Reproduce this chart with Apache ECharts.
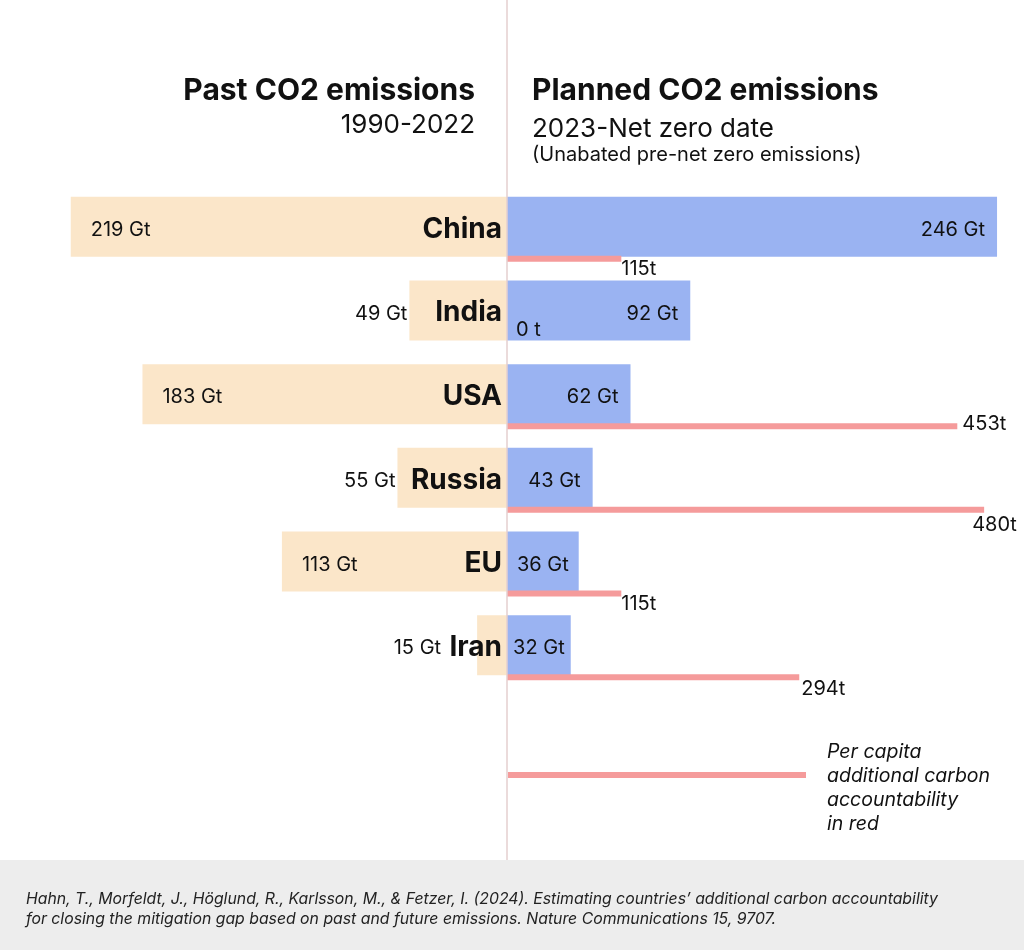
<!DOCTYPE html>
<html>
<head>
<meta charset="utf-8">
<script src="https://cdn.jsdelivr.net/npm/echarts@6/dist/echarts.min.js"></script>
<style>
html,body{margin:0;padding:0;background:#fff;}
#chart{width:1024px;height:950px;}
</style>
</head>
<body>
<div id="chart"></div>
<script>
// ---- data ----
const countries = ['China', 'India', 'USA', 'Russia', 'EU', 'Iran'];
const pastGt = [219, 49, 183, 55, 113, 15];          // 1990-2022
const plannedGt = [246, 92, 62, 43, 36, 32];         // 2023-net zero date
const perCapitaT = [115, 0, 453, 480, 115, 294];     // additional carbon accountability per capita (t)

// ---- styles ----
const FONT = 'Inter, "Noto Sans", sans-serif';
const BEIGE = '#fbe6c9';
const BLUE = '#9ab3f2';
const RED = '#f59b9b';
const INK = '#111111';
const CENTER_LINE = '#e5cfcf';

// label placements for the red per-capita lines (style only)
const redLabelOffset = {
  China: [-5, 10], India: [4, -13], USA: [0, -2],
  Russia: [-17, 15], EU: [-5, 10], Iran: [-3, 12]
};

const chart = echarts.init(document.getElementById('chart'), null, {renderer: 'canvas'});

const pastData = pastGt.map((v, i) => {
  const small = v < 60;
  return {
    value: -v,
    label: {
      position: small ? 'left' : 'insideLeft',
      distance: small ? 2 : 20,
      offset: countries[i] === 'Iran' ? [-34, 3] : [0, 3]
    }
  };
});

const plannedData = plannedGt.map(v => ({
  value: v,
  label: { position: v < 40 ? 'inside' : 'insideRight', distance: 12, offset: [0, 3] }
}));

const redData = perCapitaT.map((v, i) => ({
  value: v,
  label: { position: 'right', distance: 5, offset: redLabelOffset[countries[i]] }
}));

const gridBase = { outerBoundsMode: 'none', containLabel: false };

const option = {
  animation: false,
  backgroundColor: '#ffffff',
  textStyle: { fontFamily: FONT },
  grid: [
    Object.assign({ left: 7, width: 1000, top: 185, height: 502 }, gridBase),
    Object.assign({ left: 7, width: 1000, top: 217, height: 502 }, gridBase),
    Object.assign({ left: 507, width: 1, top: 185, height: 502 }, gridBase)
  ],
  xAxis: [
    { type: 'value', gridIndex: 0, min: -251, max: 251, show: false },
    { type: 'value', gridIndex: 1, min: -503, max: 503, show: false },
    { type: 'value', gridIndex: 2, min: 0, max: 1, show: false }
  ],
  yAxis: [
    { type: 'category', gridIndex: 0, data: countries, inverse: true, show: false },
    { type: 'category', gridIndex: 1, data: countries, inverse: true, show: false },
    {
      type: 'category', gridIndex: 2, data: countries, inverse: true, z: 10,
      position: 'left',
      axisLine: { show: false },
      axisTick: { show: false },
      splitLine: { show: false },
      axisLabel: {
        margin: 5, color: INK, fontFamily: FONT,
        formatter: v => '{c|' + v + '}',
        rich: {
          c: { fontSize: 28, fontWeight: 'bold', fontFamily: FONT, color: INK,
               padding: [5, 0, 0, 0] }
        }
      }
    }
  ],
  series: [
    {
      name: 'Past', type: 'bar', xAxisIndex: 0, yAxisIndex: 0, barWidth: 60, barGap: '-100%',
      itemStyle: { color: BEIGE }, z: 2,
      label: {
        show: true, color: INK, fontSize: 20, fontFamily: FONT,
        formatter: p => Math.abs(p.value) + ' Gt'
      },
      data: pastData
    },
    {
      name: 'Planned', type: 'bar', xAxisIndex: 0, yAxisIndex: 0, barWidth: 60, barGap: '-100%',
      itemStyle: { color: BLUE }, z: 2,
      label: {
        show: true, color: INK, fontSize: 20, fontFamily: FONT,
        formatter: p => p.value + ' Gt'
      },
      data: plannedData
    },
    {
      name: 'Per capita', type: 'bar', xAxisIndex: 1, yAxisIndex: 1, barWidth: 6,
      itemStyle: { color: RED }, z: 3,
      label: {
        show: true, color: INK, fontSize: 20, fontFamily: FONT,
        formatter: p => p.value + (p.value === 0 ? ' t' : 't')
      },
      data: redData
    }
  ],
  graphic: [
    { type: 'line', z: 100, shape: { x1: 507, y1: 0, x2: 507, y2: 860 },
      style: { stroke: CENTER_LINE, lineWidth: 1.5 } },
    { type: 'text', x: 475, y: 91, style: { text: 'Past CO2 emissions', fill: INK,
      font: 'bold 30px ' + FONT, textAlign: 'right', textVerticalAlign: 'middle' } },
    { type: 'text', x: 475, y: 125, style: { text: '1990-2022', fill: INK,
      font: '26px ' + FONT, textAlign: 'right', textVerticalAlign: 'middle' } },
    { type: 'text', x: 532, y: 91, style: { text: 'Planned CO2 emissions', fill: INK,
      font: 'bold 30px ' + FONT, textAlign: 'left', textVerticalAlign: 'middle' } },
    { type: 'text', x: 532, y: 129, style: { text: '2023-Net zero date', fill: INK,
      font: '26px ' + FONT, textAlign: 'left', textVerticalAlign: 'middle' } },
    { type: 'text', x: 532, y: 155, style: { text: '(Unabated pre-net zero emissions)', fill: INK,
      font: '20px ' + FONT, textAlign: 'left', textVerticalAlign: 'middle' } },
    { type: 'rect', shape: { x: 508, y: 772, width: 298, height: 6 }, style: { fill: RED } },
    { type: 'text', x: 827, y: 740, style: {
      text: 'Per capita\nadditional carbon\naccountability\nin red', fill: INK,
      font: 'italic 19.5px ' + FONT, lineHeight: 24, textAlign: 'left', textVerticalAlign: 'top' } },
    { type: 'rect', z: 0, shape: { x: 0, y: 860, width: 1024, height: 90 }, style: { fill: '#ededed' } },
    { type: 'text', x: 26, y: 889, style: {
      text: 'Hahn, T., Morfeldt, J., Höglund, R., Karlsson, M., & Fetzer, I. (2024). Estimating countries\u2019 additional carbon accountability\nfor closing the mitigation gap based on past and future emissions. Nature Communications 15, 9707.',
      fill: '#222', font: 'italic 15.8px ' + FONT, lineHeight: 20, textAlign: 'left', textVerticalAlign: 'top' } }
  ]
};

chart.setOption(option);
</script>
</body>
</html>
